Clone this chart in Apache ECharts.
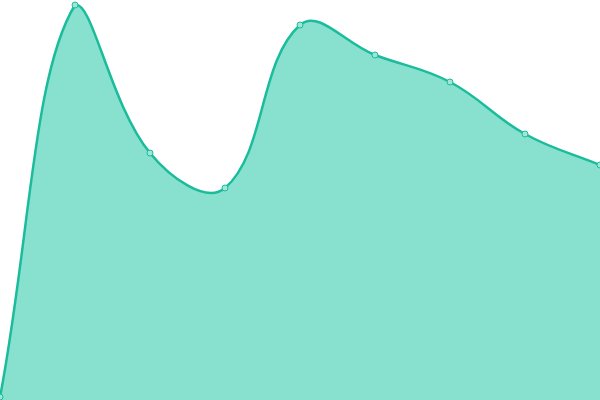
<!DOCTYPE html>
<html>
<head>
<meta charset="utf-8">
<script src="https://cdn.jsdelivr.net/npm/echarts@6/dist/echarts.min.js"></script>
<style>
html,body{margin:0;padding:0;background:#fff;}
#chart{width:600px;height:400px;}
</style>
</head>
<body>
<div id="chart"></div>
<script>
var categories = ["1","2","3","4","5","6","7","8","9"];
var values = [3, 395, 247, 212, 375, 345, 318, 266, 235];

var tension = 0.4;

// control points like a cardinal spline, not clamped to neighbours
function buildPath(pts, top, bottom){
	var cps = [];
	for(var i=0;i<pts.length;i++){
		var prev = pts[i-1] || pts[i], cur = pts[i], next = pts[i+1] || pts[i];
		var d01 = Math.sqrt(Math.pow(cur[0]-prev[0],2)+Math.pow(cur[1]-prev[1],2));
		var d12 = Math.sqrt(Math.pow(next[0]-cur[0],2)+Math.pow(next[1]-cur[1],2));
		var s01 = d01/(d01+d12) || 0, s12 = d12/(d01+d12) || 0;
		var fa = tension*s01, fb = tension*s12;
		var cpIn = [cur[0]-fa*(next[0]-prev[0]), cur[1]-fa*(next[1]-prev[1])];
		var cpOut = [cur[0]+fb*(next[0]-prev[0]), cur[1]+fb*(next[1]-prev[1])];
		cpIn[1] = Math.min(Math.max(cpIn[1],top),bottom);
		cpOut[1] = Math.min(Math.max(cpOut[1],top),bottom);
		cps.push([cpIn,cpOut]);
	}
	var d = "";
	for(var j=1;j<pts.length;j++){
		var a = cps[j-1][1], b = cps[j][0], p = pts[j];
		d += " C"+a[0]+","+a[1]+" "+b[0]+","+b[1]+" "+p[0]+","+p[1];
	}
	return d;
}

var myChart = echarts.init(document.getElementById("chart"));
var option = {
	animation:false,
	grid:{left:0,right:0,top:0,bottom:0},
	xAxis:{
		type:"category",
		boundaryGap:false,
		data:categories,
		show:false
	},
	yAxis:{
		type:"value",
		min:0,
		max:400,
		show:false
	},
	series:[{
		type:"custom",
		data:values.map(function(v,i){return [i,v];}),
		encode:{x:0,y:1},
		renderItem:function(params,api){
			if(params.dataIndex!==0) return null;
			var pts = values.map(function(v,i){return api.coord([i,v]);});
			var base = api.coord([0,0])[1];
			var top = api.coord([0,400])[1];
			var curve = buildPath(pts, top, base);
			var start = "M"+pts[0][0]+","+pts[0][1];
			var last = pts[pts.length-1];
			return {
				type:"group",
				children:[{
					type:"path",
					shape:{pathData:"M"+pts[0][0]+","+base+" L"+pts[0][0]+","+pts[0][1]+curve+" L"+last[0]+","+base+" Z"},
					style:{fill:"#88e0cf",stroke:null}
				},{
					type:"path",
					shape:{pathData:start+curve},
					style:{fill:null,stroke:"#1abc9c",lineWidth:2.5}
				}]
			};
		},
		z:1
	},{
		type:"line",
		data:values,
		symbol:"circle",
		symbolSize:6,
		itemStyle:{color:"#9fe6d7",borderColor:"#1abc9c",borderWidth:1},
		lineStyle:{opacity:0},
		z:2
	}]
};
myChart.setOption(option);
</script>
</body>
</html>
